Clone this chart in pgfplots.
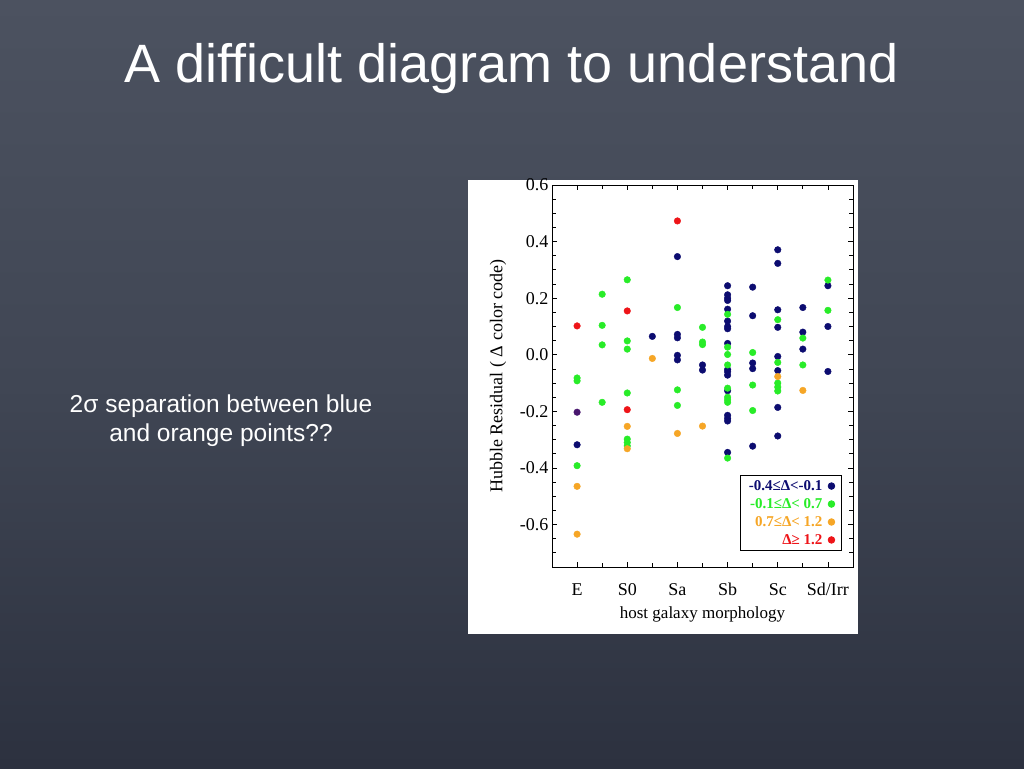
\documentclass[border=0pt]{standalone}
\usepackage{pgfplots}
\pgfplotsset{compat=1.18}
\usepackage{fontspec}
\setmainfont{Liberation Serif}
\newfontfamily\slidefont{Liberation Sans}

\definecolor{bgtop}{RGB}{76,82,96}
\definecolor{bgmid}{RGB}{64,70,84}
\definecolor{bgbot}{RGB}{44,49,63}
\definecolor{navyc}{RGB}{12,12,112}
\definecolor{greenc}{RGB}{40,236,40}
\definecolor{orangec}{RGB}{246,166,38}
\definecolor{redc}{RGB}{238,20,24}
\definecolor{purplec}{RGB}{72,22,110}

\begin{document}
\begin{tikzpicture}
% slide background
\shade[top color=bgtop, bottom color=bgbot, middle color=bgmid] (0pt,0pt) rectangle (1024pt,768pt);
\node[font=\slidefont\fontsize{54}{60}\selectfont, text=white, anchor=base] at (511.5pt,685pt) {A difficult diagram to understand};
\node[font=\slidefont\fontsize{24.5}{28}\selectfont, text=white, anchor=base] at (221pt,355pt) {2σ separation between blue};
\node[font=\slidefont\fontsize{24.5}{28}\selectfont, text=white, anchor=base] at (221pt,326.5pt) {and orange points??};
% white panel
\fill[white] (468pt,134pt) rectangle (858pt,588pt);

\begin{axis}[
    at={(552pt,201pt)}, anchor=south west,
    scale only axis, width=301pt, height=382pt,
    xmin=-0.5, xmax=5.5,
    ymin=-0.75, ymax=0.6,
    xtick={0,1,2,3,4,5},
    xticklabels={E,S0,Sa,Sb,Sc,Sd/Irr},
    minor xtick={0.5,1.5,2.5,3.5,4.5},
    ytick={-0.6,-0.4,-0.2,0,0.2,0.4,0.6},
    yticklabels={-0.6,-0.4,-0.2,0.0,0.2,0.4,0.6},
    minor ytick={-0.7,-0.65,-0.55,-0.5,-0.45,-0.35,-0.3,-0.25,-0.15,-0.1,-0.05,0.05,0.1,0.15,0.25,0.3,0.35,0.45,0.5,0.55},
    tick align=inside, tick pos=both,
    major tick length=5pt, minor tick length=4pt,
    every tick/.style={black, line width=0.8pt},
    axis line style={line width=0.9pt},
    ticklabel style={font=\fontsize{18}{20}\selectfont},
    xticklabel style={anchor=base, yshift=-28pt},
    xlabel={host galaxy morphology},
    ylabel={Hubble Residual ( Δ color code)},
    xlabel style={font=\fontsize{17}{19}\selectfont, yshift=-5pt},
    ylabel style={font=\fontsize{18}{20}\selectfont, yshift=7pt},
    legend style={at={(0.963,0.043)}, anchor=south east, draw=black, line width=0.8pt,
        fill=white, font=\fontsize{15}{17}\selectfont\bfseries, row sep=2.5pt,
        inner xsep=6pt, inner ysep=2.5pt},
    legend cell align=right,
    legend plot pos=right,
    legend image code/.code={%
        \path[draw=none, fill=none] (-4pt,0pt) -- (7pt,0pt);
        \draw[#1] plot[only marks] coordinates {(3pt,0pt)};},
    mark size=3.3pt,
]
\addplot[only marks, mark=*, color=navyc] coordinates {
(0,-0.318)
(1.5,0.065)
(2,0.347) (2,0.072) (2,0.060) (2,-0.002) (2,-0.018)
(2.5,-0.036) (2.5,-0.054)
(3,0.244) (3,0.212) (3,0.200) (3,0.192) (3,0.161) (3,0.119) (3,0.100) (3,0.092) (3,0.040)
(3,-0.052) (3,-0.060) (3,-0.072) (3,-0.127) (3,-0.214) (3,-0.225) (3,-0.234) (3,-0.345)
(3.5,0.239) (3.5,0.138) (3.5,-0.029) (3.5,-0.049) (3.5,-0.323)
(4,0.371) (4,0.323) (4,0.159) (4,0.097) (4,-0.006) (4,-0.056) (4,-0.186) (4,-0.287)
(4.5,0.167) (4.5,0.080) (4.5,0.020)
(5,0.244) (5,0.100) (5,-0.059)
};
\addlegendentry{\textcolor{navyc}{-0.4≤Δ<-0.1}}
\addplot[only marks, mark=*, color=greenc] coordinates {
(0,-0.082) (0,-0.092) (0,-0.392)
(0.5,0.214) (0.5,0.104) (0.5,0.035) (0.5,-0.168)
(1,0.265) (1,0.049) (1,0.020) (1,-0.135) (1,-0.298) (1,-0.310) (1,-0.322)
(2,0.167) (2,-0.124) (2,-0.179)
(2.5,0.097) (2.5,0.045) (2.5,0.036)
(3,0.143) (3,0.027) (3,0.001) (3,-0.036) (3,-0.118) (3,-0.150) (3,-0.159) (3,-0.168) (3,-0.365)
(3.5,0.008) (3.5,-0.107) (3.5,-0.197)
(4,0.124) (4,-0.027) (4,-0.100) (4,-0.114) (4,-0.128)
(4.5,0.059) (4.5,-0.036)
(5,0.264) (5,0.157)
};
\addlegendentry{\textcolor{greenc}{-0.1≤Δ< 0.7}}
\addplot[only marks, mark=*, color=orangec] coordinates {
(0,-0.465) (0,-0.634)
(1,-0.253) (1,-0.332)
(1.5,-0.013)
(2,-0.278)
(2.5,-0.252)
(4,-0.077)
(4.5,-0.126)
};
\addlegendentry{\textcolor{orangec}{0.7≤Δ< 1.2}}
\addplot[only marks, mark=*, color=redc] coordinates {
(0,0.102) (1,0.155) (1,-0.194) (2,0.473)
};
\addlegendentry{\textcolor{redc}{Δ≥ 1.2}}
\addplot[only marks, mark=*, color=purplec, forget plot] coordinates {
(0,-0.203)
};
\end{axis}
\end{tikzpicture}
\end{document}
